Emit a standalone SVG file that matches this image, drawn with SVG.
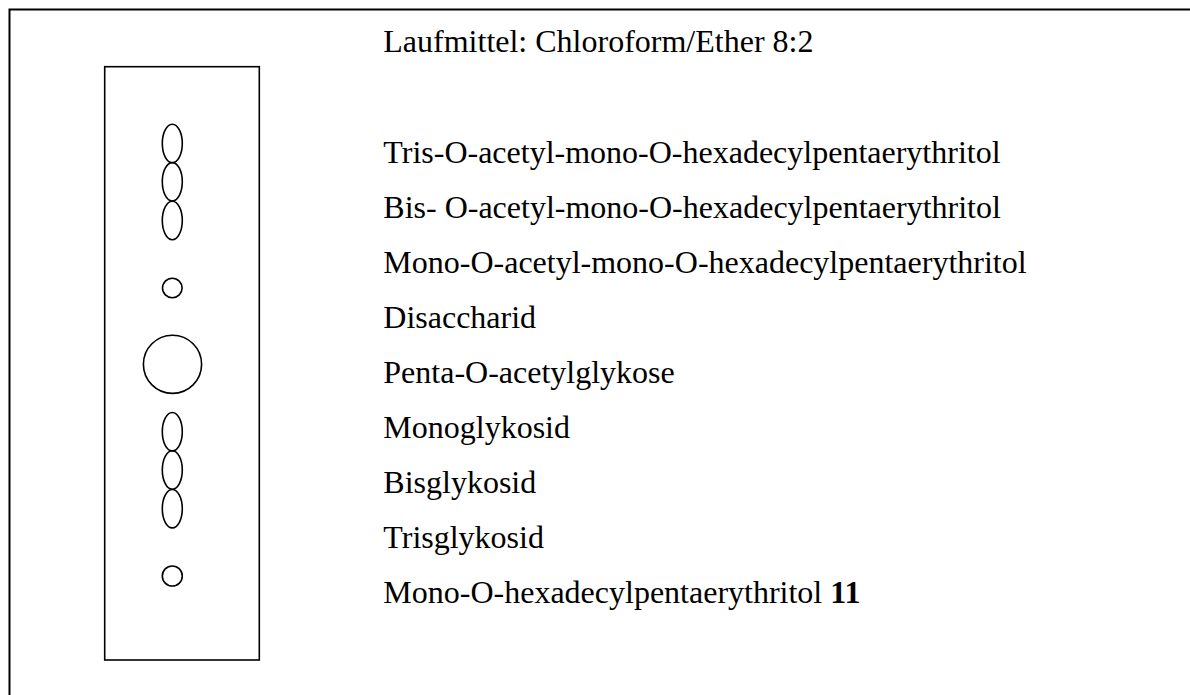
<svg xmlns="http://www.w3.org/2000/svg" width="1190" height="695" viewBox="0 0 1190 695">
<style>
.t{font-family:"Liberation Serif","Times New Roman",serif;font-size:32px;fill:#000}
.b{font-weight:bold}
.s{fill:none;stroke:#000;stroke-width:1.6}
</style>
<rect width="1190" height="695" fill="#fff"/>
<path id="frame" d="M9.5,695 V9.5 H1190" fill="none" stroke="#000" stroke-width="2"/>
<g id="plate">
<rect class="s" x="104.7" y="66.7" width="154.6" height="593.3"/>
</g>
<g id="spots">
<ellipse class="s" cx="172.3" cy="143.5" rx="10" ry="19.2"/>
<ellipse class="s" cx="172.3" cy="181.8" rx="10" ry="19.2"/>
<ellipse class="s" cx="172.3" cy="220.5" rx="10" ry="19.2"/>
<circle class="s" cx="172.3" cy="288" r="9.8"/>
<circle class="s" cx="172.5" cy="364.3" r="29.1"/>
<ellipse class="s" cx="172.3" cy="431.7" rx="10" ry="19.2"/>
<ellipse class="s" cx="172.3" cy="470" rx="10" ry="19.2"/>
<ellipse class="s" cx="172.3" cy="508.7" rx="10" ry="19.2"/>
<circle class="s" cx="172.3" cy="576" r="10"/>
</g>
<g id="labels">
<text class="t" x="383.3" y="51.7">Laufmittel: Chloroform/Ether 8:2</text>
<text class="t" x="383.3" y="163.3">Tris-O-acetyl-mono-O-hexadecylpentaerythritol</text>
<text class="t" x="383.3" y="218.3">Bis- O-acetyl-mono-O-hexadecylpentaerythritol</text>
<text class="t" x="383.3" y="273.2">Mono-O-acetyl-mono-O-hexadecylpentaerythritol</text>
<text class="t" x="383.3" y="328">Disaccharid</text>
<text class="t" x="383.3" y="382.8">Penta-O-acetylglykose</text>
<text class="t" x="383.3" y="437.8">Monoglykosid</text>
<text class="t" x="383.3" y="492.7">Bisglykosid</text>
<text class="t" x="383.3" y="547.6">Trisglykosid</text>
<text class="t" x="383.3" y="602.8">Mono-O-hexadecylpentaerythritol <tspan class="b">11</tspan></text>
</g>
</svg>
